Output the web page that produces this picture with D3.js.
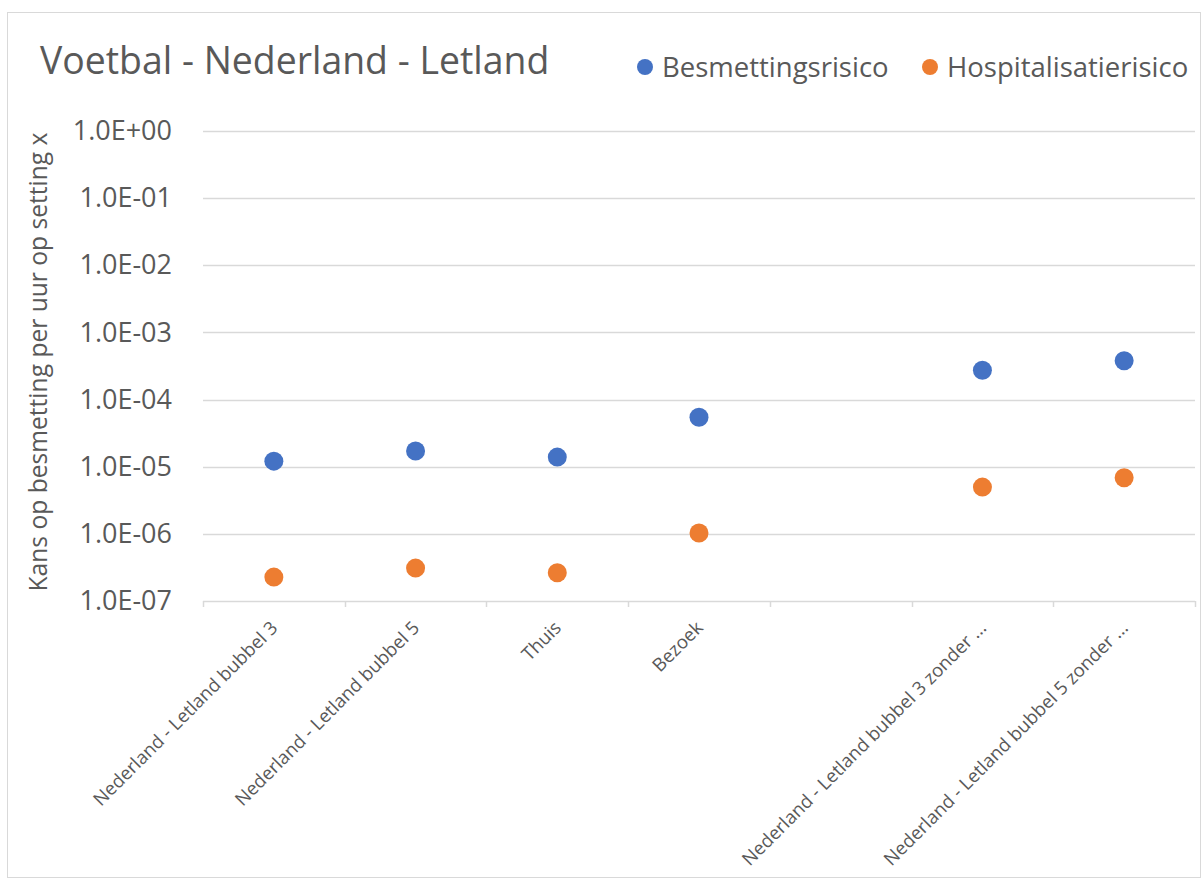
<!DOCTYPE html>
<html>
<head>
<meta charset="utf-8">
<script src="https://cdn.jsdelivr.net/npm/d3@7"></script>
<style>
    body { margin: 0; background: #fff; }
    text { font-family: "Open Sans", sans-serif; fill: #595959; }
</style>
</head>
<body>
<script>
const categories = [
    "Nederland - Letland bubbel 3",
    "Nederland - Letland bubbel 5",
    "Thuis",
    "Bezoek",
    "",
    "Nederland - Letland bubbel 3 zonder ...",
    "Nederland - Letland bubbel 5 zonder ...",
];
const besmetting = [1.21e-5, 1.71e-5, 1.39e-5, 5.47e-5, null, 2.74e-4, 3.78e-4];
const hospitalisatie = [2.27e-7, 3.09e-7, 2.64e-7, 1.03e-6, null, 4.97e-6, 6.85e-6];
const yTicks = [1e0, 1e-1, 1e-2, 1e-3, 1e-4, 1e-5, 1e-6, 1e-7];

const series = [
    { name: "Besmettingsrisico", color: "#4472C4", values: besmetting },
    { name: "Hospitalisatierisico", color: "#ED7D31", values: hospitalisatie },
];

const W = 1203, H = 883;
const margin = { top: 131, right: 8, bottom: 282, left: 203 };
const width = W - margin.left - margin.right;
const height = H - margin.top - margin.bottom;

const svg = d3.select("body").append("svg")
    .attr("width", W)
    .attr("height", H);

// chart frame
svg.append("rect")
    .attr("x", 7.5).attr("y", 12.5)
    .attr("width", W - 10).attr("height", H - 18)
    .attr("fill", "none")
    .attr("stroke", "#d9d9d9");

svg.append("text")
    .attr("x", 40).attr("y", 74)
    .attr("font-size", 37.4)
    .text("Voetbal - Nederland - Letland");

const g = svg.append("g")
    .attr("transform", `translate(${margin.left}, ${margin.top})`);

const x = d3.scaleBand().domain(categories).range([0, width]);
const y = d3.scaleLog().domain([1e-7, 1]).range([height, 0]);

const fmt = d => {
    const e = Math.round(Math.log10(d));
    return "1.0E" + (e < 0 ? "-" : "+") + String(Math.abs(e)).padStart(2, "0");
};

// gridlines
g.append("g")
    .selectAll("line")
    .data(yTicks.filter(d => d > 1e-7))
    .join("line")
        .attr("x1", 0).attr("x2", width)
        .attr("y1", d => Math.round(y(d)) + 0.5)
        .attr("y2", d => Math.round(y(d)) + 0.5)
        .attr("stroke", "#d9d9d9")
        .attr("stroke-width", 1.5);

// y axis labels
const yAxis = g.append("g")
    .call(d3.axisLeft(y).tickValues(yTicks).tickFormat(fmt).tickSize(0).tickPadding(31));
yAxis.select(".domain").remove();
yAxis.selectAll("text")
    .attr("font-size", 27)
    .attr("font-family", "Open Sans, sans-serif")
    .attr("fill", "#595959");

// x axis with boundary ticks
const xAxis = g.append("g")
    .attr("transform", `translate(0, ${height})`);
xAxis.append("line")
    .attr("x1", 0).attr("x2", width)
    .attr("y1", 0.5).attr("y2", 0.5)
    .attr("stroke", "#d9d9d9")
    .attr("stroke-width", 1.5);
xAxis.selectAll("line.tick")
    .data(categories.map(c => x(c)).concat([width]))
    .join("line")
        .attr("class", "tick")
        .attr("x1", d => Math.round(d) + 0.5).attr("x2", d => Math.round(d) + 0.5)
        .attr("y1", 0).attr("y2", 6)
        .attr("stroke", "#d9d9d9")
        .attr("stroke-width", 1.5);
xAxis.selectAll("text")
    .data(categories)
    .join("text")
        .attr("transform", d => `translate(${x(d) + x.bandwidth() / 2 + 5}, 28) rotate(-45)`)
        .attr("text-anchor", "end")
        .attr("font-size", 18.5)
        .text(d => d);

// y axis title
svg.append("text")
    .attr("transform", `translate(47, ${margin.top + height / 2 - 4}) rotate(-90)`)
    .attr("text-anchor", "middle")
    .attr("font-size", 24.6)
    .text("Kans op besmetting per uur op setting x");

// dots
series.forEach(s => {
    g.append("g")
        .selectAll("circle")
        .data(categories.map((c, i) => ({ c, v: s.values[i] })).filter(d => d.v != null))
        .join("circle")
            .attr("cx", d => x(d.c) + x.bandwidth() / 2)
            .attr("cy", d => y(d.v))
            .attr("r", 9.5)
            .attr("fill", s.color);
});

// legend
const legend = svg.append("g");
const legendX = [645, 930];
series.forEach((s, i) => {
    legend.append("circle")
        .attr("cx", legendX[i]).attr("cy", 67)
        .attr("r", 8)
        .attr("fill", s.color);
    legend.append("text")
        .attr("x", legendX[i] + 17).attr("y", 77)
        .attr("font-size", 27.5)
        .text(s.name);
});
</script>
</body>
</html>
